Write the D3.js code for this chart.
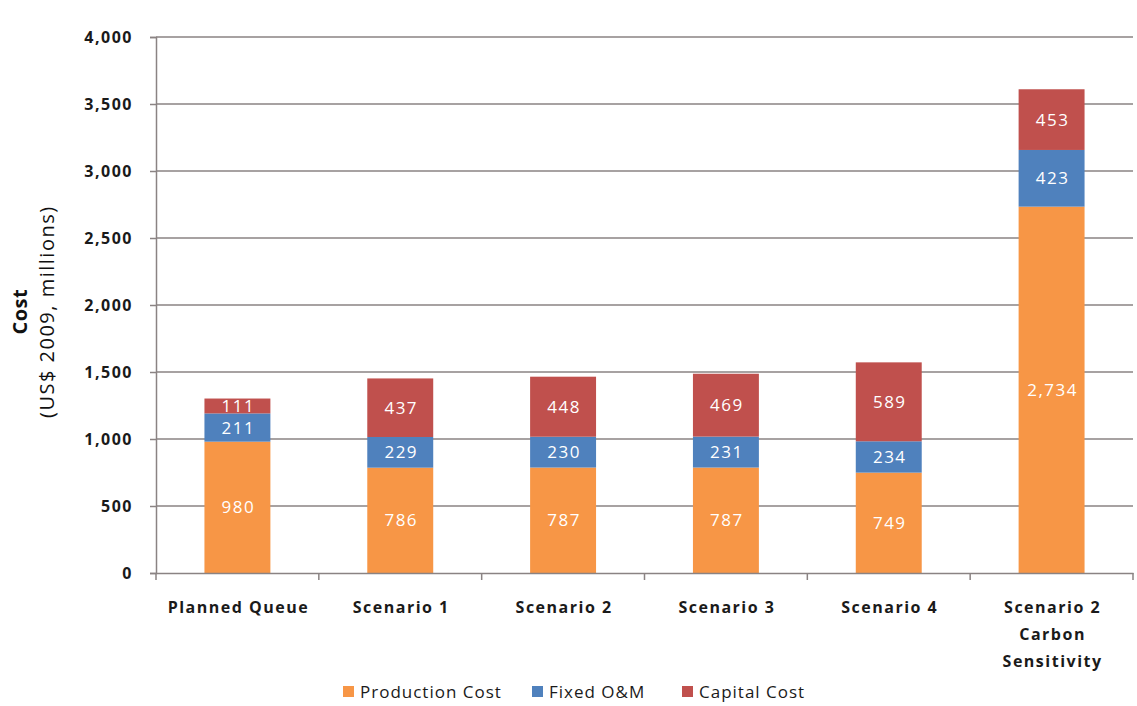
<!DOCTYPE html>
<html>
<head>
<meta charset="utf-8">
<script src="https://cdn.jsdelivr.net/npm/d3@7"></script>
<style>
  body { margin: 0; background: #fff; }
  text { font-family: "Open Sans", Lato, sans-serif; }
</style>
</head>
<body>
<div id="chart"></div>
<script>
// data
var categories = ["Planned Queue", "Scenario 1", "Scenario 2", "Scenario 3", "Scenario 4", "Scenario 2|Carbon|Sensitivity"]
var seriesNames = ["Production Cost", "Fixed O&M", "Capital Cost"]
var productionCost = [980, 786, 787, 787, 749, 2734]
var fixedOM = [211, 229, 230, 231, 234, 423]
var capitalCost = [111, 437, 448, 469, 589, 453]
var yTicks = [0, 500, 1000, 1500, 2000, 2500, 3000, 3500, 4000]

var colors = ["#f79646", "#4f81bd", "#c0504d"]

var width = 1137,
    height = 706,
    margin = {top: 37, right: 4, bottom: 133, left: 156}

var svg = d3.select("#chart")
  .append("svg")
    .attr("width", width)
    .attr("height", height)

var table = categories.map(function(c, i) {
  return {cat: c, "Production Cost": productionCost[i], "Fixed O&M": fixedOM[i], "Capital Cost": capitalCost[i]}
})
var stacked = d3.stack().keys(seriesNames)(table)

var x = d3.scaleBand()
  .domain(categories)
  .range([margin.left, width - margin.right])
  .paddingInner(0.595)
  .paddingOuter(0.2975)

var y = d3.scaleLinear()
  .domain([0, 4000])
  .range([height - margin.bottom, margin.top])

// gridlines
svg.append("g")
  .selectAll("line")
  .data(yTicks.slice(1))
  .enter()
  .append("line")
    .attr("x1", margin.left)
    .attr("x2", width - margin.right)
    .attr("y1", function(d) { return y(d) })
    .attr("y2", function(d) { return y(d) })
    .attr("stroke", "#8a8383")
    .attr("stroke-width", 1.5)

// bars
var groups = svg.append("g")
  .selectAll("g")
  .data(stacked)
  .enter()
  .append("g")
    .attr("fill", function(d, i) { return colors[i] })

groups.selectAll("rect")
  .data(function(d) { return d })
  .enter()
  .append("rect")
    .attr("x", function(d) { return x(d.data.cat) })
    .attr("width", x.bandwidth())
    .attr("y", function(d) { return y(d[1]) })
    .attr("height", function(d) { return y(d[0]) - y(d[1]) })

// value labels
groups.selectAll("text")
  .data(function(d) { return d.map(function(p) { return {p: p, v: p[1] - p[0]} }) })
  .enter()
  .append("text")
    .attr("x", function(d) { return x(d.p.data.cat) + x.bandwidth() / 2 + 1 })
    .attr("y", function(d) { return (y(d.p[0]) + y(d.p[1])) / 2 })
    .attr("dy", "0.36em")
    .attr("text-anchor", "middle")
    .attr("fill", "#fff")
    .style("font-size", "17px")
    .style("letter-spacing", "1.5px")
    .text(function(d) { return d3.format(",")(d.v) })

// y axis
var yAxis = svg.append("g")
  .attr("transform", "translate(" + margin.left + ",0)")
  .call(d3.axisLeft(y).tickValues(yTicks).tickFormat(d3.format(",")).tickSize(6).tickPadding(17))
yAxis.select(".domain").attr("stroke", "#8a8383").attr("stroke-width", 1.5)
yAxis.selectAll(".tick line").attr("stroke", "#8a8383").attr("stroke-width", 1.5)
yAxis.selectAll(".tick text")
  .attr("fill", "#1a1a1a")
  .style("font-size", "16px")
  .style("font-weight", "bold")
  .style("letter-spacing", "1.5px")

// x axis
var xAxis = svg.append("g")
  .attr("transform", "translate(0," + y(0) + ")")
  .call(d3.axisBottom(x).tickSize(0).tickFormat(""))
xAxis.select(".domain").attr("stroke", "#8a8383").attr("stroke-width", 1.5)

// tick marks between categories
svg.append("g")
  .selectAll("line")
  .data(d3.range(categories.length + 1))
  .enter()
  .append("line")
    .attr("x1", function(i) { return margin.left + i * x.step() })
    .attr("x2", function(i) { return margin.left + i * x.step() })
    .attr("y1", y(0))
    .attr("y2", y(0) + 7)
    .attr("stroke", "#8a8383")
    .attr("stroke-width", 1.5)

// category labels
var catLabels = svg.append("g")
  .selectAll("text")
  .data(categories)
  .enter()
  .append("text")
    .attr("x", function(d) { return x(d) + x.bandwidth() / 2 + 1 })
    .attr("y", y(0) + 40)
    .attr("text-anchor", "middle")
    .attr("fill", "#1a1a1a")
    .style("font-size", "16px")
    .style("font-weight", "bold")
    .style("letter-spacing", "1.5px")

catLabels.selectAll("tspan")
  .data(function(d) { return d.split("|") })
  .enter()
  .append("tspan")
    .attr("x", function() { return d3.select(this.parentNode).attr("x") })
    .attr("dy", function(d, i) { return i === 0 ? 0 : 27 })
    .text(function(d) { return d })

// y axis title
var yTitle = svg.append("text")
  .attr("transform", "translate(27," + y(1950) + ") rotate(-90)")
  .attr("text-anchor", "middle")
  .attr("fill", "#111")
  .style("font-size", "20px")
yTitle.append("tspan")
  .attr("x", 0)
  .style("font-weight", "bold")
  .style("letter-spacing", "0.5px")
  .text("Cost")
yTitle.append("tspan")
  .attr("x", 0)
  .attr("dy", 27)
  .style("letter-spacing", "1.5px")
  .text("(US$ 2009, millions)")

// legend
var legendX = [343, 532, 682]
var legend = svg.append("g")
  .selectAll("g")
  .data(seriesNames)
  .enter()
  .append("g")
    .attr("transform", function(d, i) { return "translate(" + legendX[i] + ",692)" })
legend.append("rect")
  .attr("x", 0)
  .attr("y", -6)
  .attr("width", 11)
  .attr("height", 11)
  .attr("fill", function(d, i) { return colors[i] })
legend.append("text")
  .attr("x", 17)
  .attr("dy", "0.35em")
  .attr("fill", "#1a1a1a")
  .style("font-size", "17px")
  .style("letter-spacing", "1px")
  .text(function(d) { return d })
</script>
</body>
</html>
